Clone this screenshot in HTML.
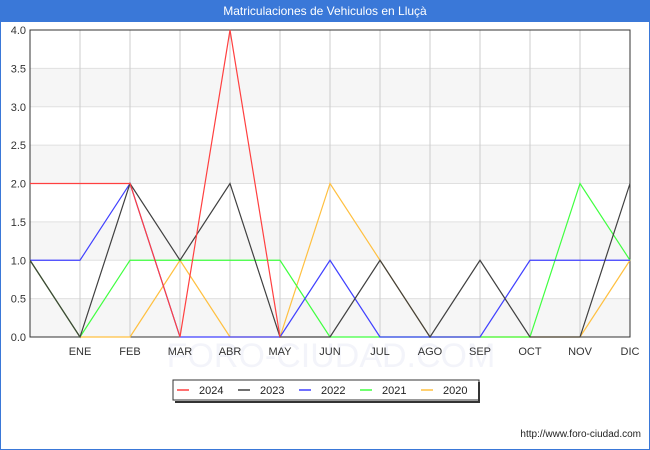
<!DOCTYPE html>
<html><head><meta charset="utf-8"><style>
body{margin:0;background:#fff;font-family:"Liberation Sans",sans-serif}
#wrap{position:relative;width:648px;height:448px;border:1px solid #3a78d8;}
#title{position:absolute;left:0;top:0;width:648px;height:21px;background:#3a78d8;color:#fff;font-size:12px;text-align:center;line-height:21px}
</style></head><body>
<div id="wrap">
<svg id="chart" width="648" height="448" style="position:absolute;left:0;top:0"></svg>
<div id="title">Matriculaciones de Vehiculos en Lluçà</div>
</div>
<script>
const categories=["","ENE","FEB","MAR","ABR","MAY","JUN","JUL","AGO","SEP","OCT","NOV","DIC"];
const yTicks=["0.0","0.5","1.0","1.5","2.0","2.5","3.0","3.5","4.0"];
const seriesNames=["2024","2023","2022","2021","2020"];
const s2024=[2,2,2,0,4,0];
const s2023=[1,0,2,1,2,0,0,1,0,1,0,0,2];
const s2022=[1,1,2,0,0,0,1,0,0,0,1,1,1];
const s2021=[1,0,1,1,1,1,0,0,0,0,0,2,1];
const s2020=[1,0,0,1,0,0,2,1,0,0,0,0,1];
const colors=["#ff4040","#404040","#4040ff","#40ff40","#ffc040"];
const data=[s2024,s2023,s2022,s2021,s2020];
const svg=document.getElementById('chart');const NS='http://www.w3.org/2000/svg';
const L=29,R=629,T=29,B=336,YMAX=4;
const xs=i=>L+i*(R-L)/(categories.length-1);
const ys=v=>B-v*(B-T)/YMAX;
function mk(t,a){const e=document.createElementNS(NS,t);for(const k in a)e.setAttribute(k,a[k]);svg.appendChild(e);return e;}
for(let i=0;i<8;i+=2){const r=mk('rect',{x:L,y:ys(i*0.5+0.5),width:R-L,height:ys(i*0.5)-ys(i*0.5+0.5),fill:'#f6f6f6'});

}
const wm=mk('text',{x:330,y:366,'text-anchor':'middle','font-size':34,fill:'#f3f4fa'});wm.textContent='FORO-CIUDAD.COM';


yTicks.forEach((t,i)=>{const v=i*0.5;const g=mk('line',{x1:L,x2:R,y1:ys(v),y2:ys(v),stroke:'#e0e0e0'});


const tx=mk('text',{x:L-4,y:ys(v)+4,'text-anchor':'end','font-size':11,fill:'#333'});tx.textContent=t;

});
categories.forEach((c,i)=>{const g=mk('line',{x1:xs(i),x2:xs(i),y1:T,y2:B,stroke:'#cccccc'});


const tx=mk('text',{x:xs(i),y:B+18,'text-anchor':'middle','font-size':11,fill:'#333'});tx.textContent=c;

});
const ax=mk('rect',{x:L,y:T,width:R-L,height:B-T,fill:'none',stroke:'#333'});


for(let k=data.length-1;k>=0;k--){const pts=data[k].map((v,i)=>xs(i)+','+ys(v)).join(' ');
const p=mk('polyline',{points:pts,fill:'none',stroke:colors[k],'stroke-width':1.2});

}
const lb=mk('rect',{x:172,y:379,width:306,height:20,fill:'#fff',stroke:'#333'});


const sh=mk('path',{d:'M478 381 V401 H174',fill:'none',stroke:'#333','stroke-width':2});


seriesNames.forEach((n,k)=>{const x0=176+k*61;
const l=mk('line',{x1:x0,x2:x0+12,y1:389,y2:389,stroke:colors[k],'stroke-width':1.5});


const t=mk('text',{x:x0+22,y:393,'font-size':11,fill:'#222'});t.textContent=n;

});
const u=mk('text',{x:640,y:436,'text-anchor':'end','font-size':10,fill:'#222'});u.textContent='http://www.foro-ciudad.com';


</script>
</body></html>
